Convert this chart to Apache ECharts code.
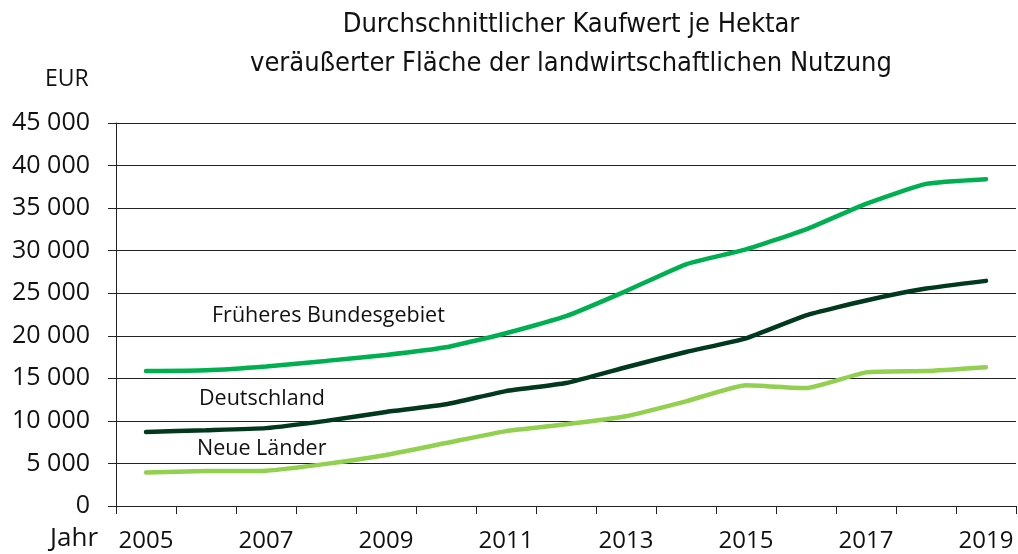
<!DOCTYPE html>
<html>
<head>
<meta charset="utf-8">
<script src="https://cdn.jsdelivr.net/npm/echarts@6/dist/echarts.min.js"></script>
<style>
  html, body { margin: 0; padding: 0; background: #fff; }
  #EchartMain { width: 1018px; height: 554px; }
</style>
</head>
<body>
<div id="EchartMain"></div>
<script>
// Jahre auf der x-Achse
const years = ["2005", "2006", "2007", "2008", "2009", "2010", "2011", "2012",
  "2013", "2014", "2015", "2016", "2017", "2018", "2019"];
// Kaufwerte in EUR je Hektar
const fruheresBundesgebiet = [15850, 15950, 16400, 17050, 17750, 18650, 20300, 22300,
  25250, 28400, 30150, 32500, 35500, 37850, 38400];
const deutschland = [8700, 8900, 9150, 10000, 11050, 11950, 13500, 14450,
  16300, 18100, 19700, 22400, 24150, 25550, 26450];
const neueLaender = [3950, 4100, 4150, 4950, 6000, 7400, 8800, 9600,
  10550, 12300, 14200, 13850, 15700, 15850, 16300];

const font = "'Liberation Sans Narrow', 'DejaVu Sans Condensed', sans-serif";
const font2 = "'Open Sans', sans-serif";

const option = {
  animation: false,
  title: {
    text: "Durchschnittlicher Kaufwert je Hektar\nveräußerter Fläche der landwirtschaftlichen Nutzung",
    left: 566,
    top: 0,
    textAlign: "center",
    textStyle: {
      fontFamily: font,
      fontWeight: "normal",
      fontSize: 27,
      lineHeight: 39,
      color: "#111",
    },
  },
  grid: {
    left: 116,
    right: 2,
    top: 123,
    bottom: 48,
    containLabel: false,
  },
  xAxis: {
    type: "category",
    data: years,
    boundaryGap: true,
    axisLine: { lineStyle: { color: "#222", width: 1 } },
    axisTick: { show: true, interval: 0, length: 8, lineStyle: { color: "#222" } },
    axisLabel: {
      interval: 1,
      margin: 23,
      fontFamily: font2,
      fontSize: 24,
      color: "#111",
    },
  },
  yAxis: {
    type: "value",
    min: 0,
    max: 45000,
    interval: 5000,
    axisLine: { show: true, lineStyle: { color: "#222", width: 1 } },
    axisTick: { show: true, length: 8, lineStyle: { color: "#222" } },
    splitLine: { lineStyle: { color: "#222", width: 1 } },
    axisLabel: {
      margin: 26,
      fontFamily: font2,
      fontSize: 25,
      color: "#111",
      formatter: function (v) {
        return String(v).replace(/\B(?=(\d{3})+(?!\d))/g, " ");
      },
    },
  },
  series: [
    {
      name: "Früheres Bundesgebiet",
      type: "line",
      data: fruheresBundesgebiet,
      smooth: 0.15,
      symbol: "none",
      lineStyle: { color: "#00b050", width: 4.5, cap: "round" },
    },
    {
      name: "Deutschland",
      type: "line",
      data: deutschland,
      smooth: 0.15,
      symbol: "none",
      lineStyle: { color: "#00391d", width: 4.5, cap: "round" },
    },
    {
      name: "Neue Länder",
      type: "line",
      data: neueLaender,
      smooth: 0.15,
      symbol: "none",
      lineStyle: { color: "#92d050", width: 4.5, cap: "round" },
    },
  ],
  graphic: [
    { type: "text", left: 45, top: 68, style: { text: "EUR", font: "23px " + font2, fill: "#111" } },
    { type: "text", left: 50, top: 526, style: { text: "Jahr", font: "26px " + font2, fill: "#111" } },
    { type: "text", left: 212, top: 305, style: { text: "Früheres Bundesgebiet", font: "21.5px " + font2, fill: "#111" } },
    { type: "text", left: 199, top: 388, style: { text: "Deutschland", font: "21.5px " + font2, fill: "#111" } },
    { type: "text", left: 197, top: 438, style: { text: "Neue Länder", font: "21.5px " + font2, fill: "#111" } },
  ],
};

const chartDom = document.getElementById("EchartMain");
const myChart = echarts.init(chartDom);
myChart.setOption(option);
</script>
</body>
</html>
